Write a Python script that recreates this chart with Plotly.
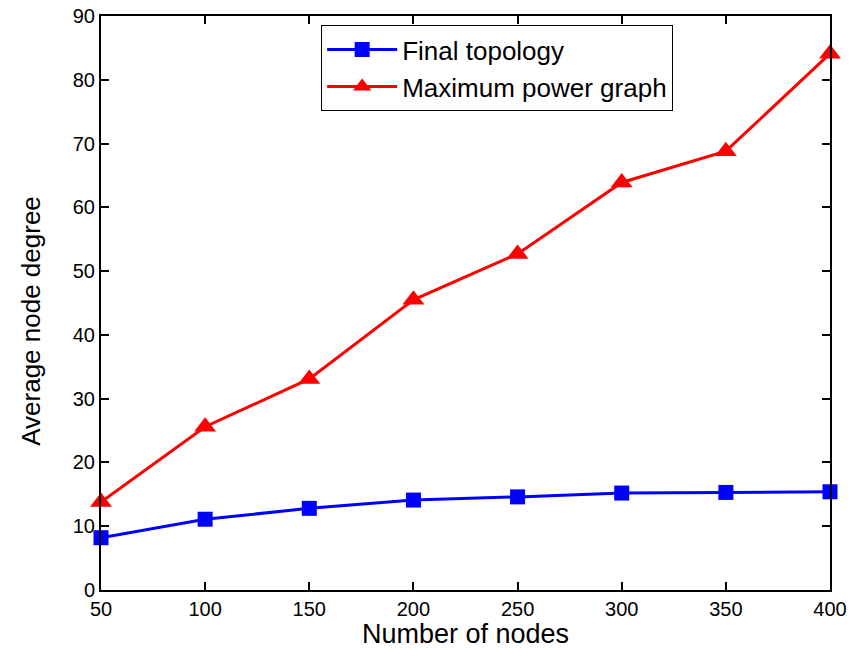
import plotly.graph_objects as go

nodes = [50, 100, 150, 200, 250, 300, 350, 400]
final_topology = [8.2, 11.1, 12.8, 14.1, 14.6, 15.2, 15.3, 15.4]
max_power = [13.8, 25.6, 33.1, 45.5, 52.7, 63.9, 68.8, 84.1]

fig = go.Figure()
fig.add_trace(go.Scatter(x=nodes, y=final_topology, mode="lines+markers",
                         name="Final topology", cliponaxis=False,
                         line=dict(color="#0000ff", width=3),
                         marker=dict(symbol="square", size=15, color="#0000ff")))
fig.add_trace(go.Scatter(x=nodes, y=max_power, mode="lines+markers",
                         name="Maximum power graph", cliponaxis=False,
                         line=dict(color="#ff0000", width=3),
                         marker=dict(symbol="triangle-up", size=19, color="#ff0000")))

FONT = "Liberation Sans, Arial, Helvetica"
axis_common = dict(showgrid=False, zeroline=False, showline=True, linecolor="black",
                   linewidth=2, mirror="ticks", ticks="inside", ticklen=8,
                   tickwidth=2, tickcolor="black", automargin=False,
                   tickfont=dict(family=FONT, size=20, color="black"))

fig.update_xaxes(range=[50, 400], tickvals=[50, 100, 150, 200, 250, 300, 350, 400],
                 **axis_common)
fig.update_yaxes(range=[0, 90], tickvals=list(range(0, 91, 10)), **axis_common)

fig.add_annotation(text="Number of nodes", xref="paper", yref="paper",
                   x=0.5, y=-0.1045, xanchor="center", yanchor="bottom",
                   showarrow=False, borderpad=0,
                   font=dict(family=FONT, size=27, color="black"))
fig.add_annotation(text="Average node degree", xref="paper", yref="paper",
                   x=-0.096, y=0.469, xanchor="center", yanchor="middle",
                   textangle=-90, showarrow=False,
                   font=dict(family=FONT, size=26, color="black"))

fig.update_layout(
    width=862, height=650,
    margin=dict(l=101, r=32, t=16, b=60),
    plot_bgcolor="white", paper_bgcolor="white",
    legend=dict(x=0.302, y=0.984, xanchor="left", yanchor="top",
                bordercolor="black", borderwidth=1, bgcolor="white",
                font=dict(family=FONT, size=26, color="black"),
                tracegroupgap=0, itemwidth=70),
    showlegend=True,
)

fig.write_html("out.html")
